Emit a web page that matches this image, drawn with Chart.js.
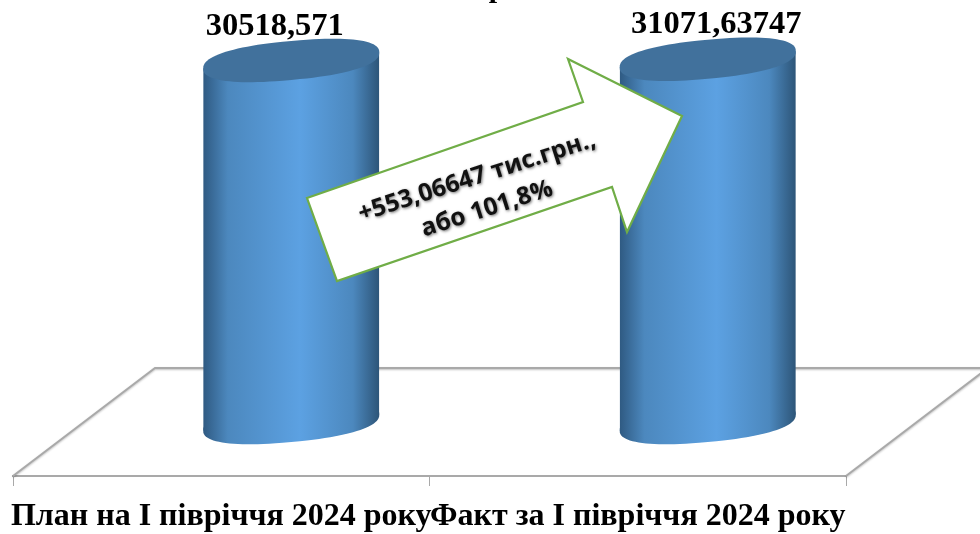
<!DOCTYPE html>
<html><head><meta charset="utf-8">
<style>html,body{margin:0;padding:0;background:#fff}#w{width:980px;height:534px}</style>
<script src="https://cdn.jsdelivr.net/npm/chart.js@4"></script></head>
<body><div id="w"><canvas id="c"></canvas></div>
<script>
const categories = ['План на І півріччя 2024 року', 'Факт за І півріччя 2024 року'];
const values = [30518.571, 31071.63747];
const valueLabels = ['30518,571', '31071,63747'];
const calloutLines = ['+553,06647 тис.грн.,', 'або 101,8%'];
const yMin = -143700, yMax = 75650;
const depthX = 70, depthY = -45.5, tilt = 8, capInset = 8;
const labelDx = [-16.5, 8.5], labelDy = [1.5, 0];
const serif = '"Liberation Serif", serif';

function barGradient(ctx, l, r) {
  const g = ctx.createLinearGradient(l, 0, r, 0);
  g.addColorStop(0, '#2F5A82'); g.addColorStop(0.14, '#4C88BE');
  g.addColorStop(0.55, '#5CA1E2'); g.addColorStop(0.85, '#4C88BE'); g.addColorStop(1, '#2D5578');
  return g;
}
function capPath(ctx, cx, cy, w) {
  const X = w / 2, Y = 19.5, n = 2.35;
  ctx.beginPath();
  for (let i = 0; i <= 96; i++) {
    const t = i / 96 * Math.PI * 2, c = Math.cos(t), s = Math.sin(t);
    const px = X * Math.sign(c) * Math.pow(Math.abs(c), 2 / n);
    const py = Y * Math.sign(s) * Math.pow(Math.abs(s), 2 / n);
    const x = cx + px, y = cy + py - px / X * tilt;
    i ? ctx.lineTo(x, y) : ctx.moveTo(x, y);
  }
  ctx.closePath();
}
const cylinder = {
  id: 'cylinder',
  beforeDatasetsDraw(chart) {
    const { ctx, chartArea: a } = chart;
    ctx.save();
    ctx.strokeStyle = '#A9A9A9'; ctx.lineWidth = 2;
    ctx.shadowColor = 'rgba(0,0,0,.25)'; ctx.shadowBlur = 2; ctx.shadowOffsetY = 1;
    ctx.beginPath();
    ctx.moveTo(a.left, a.bottom);
    ctx.lineTo(a.left + 142, a.top + 368);
    ctx.lineTo(a.right + 142, a.top + 368);
    ctx.lineTo(a.right, a.bottom);
    ctx.stroke();
    ctx.restore();
  },
  beforeDatasetDraw(chart) {
    const ctx = chart.ctx;
    ctx.save();
    ctx.translate(depthX, depthY);
    ctx.beginPath();
    chart.getDatasetMeta(0).data.forEach(b => {
      const l = b.x - b.width / 2, r = b.x + b.width / 2;
      const top = b.y + capInset, bot = b.base - capInset;
      ctx.moveTo(l, top + tilt); ctx.lineTo(r, top - tilt);
      ctx.lineTo(r, bot - tilt); ctx.lineTo(l, bot + tilt); ctx.closePath();
    });
    ctx.clip();
  },
  afterDatasetDraw(chart) {
    const ctx = chart.ctx;
    ctx.restore();
    chart.getDatasetMeta(0).data.forEach((b, i) => {
      const w = b.width, l = b.x - w / 2, r = b.x + w / 2;
      ctx.save();
      ctx.translate(depthX, depthY);
      ctx.fillStyle = barGradient(ctx, l, r);
      capPath(ctx, b.x, b.base - capInset, w); ctx.fill();
      ctx.fillStyle = '#41719C';
      capPath(ctx, b.x, b.y + capInset, w); ctx.fill();
      ctx.restore();
      ctx.save();
      ctx.fillStyle = '#000'; ctx.textAlign = 'center'; ctx.textBaseline = 'alphabetic';
      ctx.font = 'bold 32.5px ' + serif;
      ctx.fillText(valueLabels[i], b.x + depthX + labelDx[i], b.y + depthY - 18.5 + labelDy[i]);
      ctx.restore();
    });
  },
  afterDraw(chart) {
    const ctx = chart.ctx;
    ctx.save();
    ctx.fillStyle = '#000'; ctx.font = 'bold 30px ' + serif; ctx.textAlign = 'center';
    ctx.fillText('р', 497, -3);
    ctx.beginPath();
    ctx.moveTo(307, 198); ctx.lineTo(583, 102); ctx.lineTo(568, 59); ctx.lineTo(682, 116);
    ctx.lineTo(627, 232); ctx.lineTo(612, 187); ctx.lineTo(337, 281); ctx.closePath();
    ctx.fillStyle = '#fff'; ctx.fill();
    ctx.strokeStyle = '#70AD47'; ctx.lineWidth = 2.2; ctx.lineJoin = 'miter'; ctx.stroke();
    ctx.font = 'bold 24.5px "Open Sans", sans-serif';
    ctx.fillStyle = '#111'; ctx.textBaseline = 'middle'; ctx.textAlign = 'center';
    ctx.shadowColor = 'rgba(0,0,0,.55)'; ctx.shadowBlur = 3; ctx.shadowOffsetX = 1; ctx.shadowOffsetY = 1;
    [[477, 177], [487, 209]].forEach((p, i) => {
      ctx.save(); ctx.translate(p[0], p[1]); ctx.rotate(-0.31);
      ctx.fillText(calloutLines[i], 0, 0); ctx.restore();
    });
    ctx.restore();
  }
};

new Chart(document.getElementById('c'), {
  type: 'bar',
  data: { labels: categories, datasets: [{
    data: values, base: yMin, clip: false, borderWidth: 0,
    barPercentage: 0.7, categoryPercentage: 0.604,
    backgroundColor(c) {
      const x = c.chart.scales.x;
      const cx = x ? x.getPixelForValue(c.dataIndex) : NaN;
      if (!Number.isFinite(cx)) return '#5B9BD5';
      return barGradient(c.chart.ctx, cx - 88, cx + 88);
    }
  }]},
  options: {
    responsive: true, maintainAspectRatio: false, animation: false,
    layout: { padding: { left: 13, right: 134, top: 0, bottom: 0 } },
    plugins: { legend: { display: false }, title: { display: false }, tooltip: { enabled: false } },
    scales: {
      x: {
        afterFit(s) { s.height = 58; s.paddingLeft = 0; s.paddingRight = 0; },
        grid: { drawOnChartArea: false, drawTicks: true, tickLength: 10, color: '#A9A9A9', tickColor: '#A9A9A9' },
        border: { color: '#A9A9A9', width: 2 },
        ticks: { color: '#000', maxRotation: 0, minRotation: 0, autoSkip: false, padding: 12,
                 font: { family: serif, weight: 'bold', size: 32 } }
      },
      y: { display: false, min: yMin, max: yMax }
    }
  },
  plugins: [cylinder]
});
</script></body></html>
